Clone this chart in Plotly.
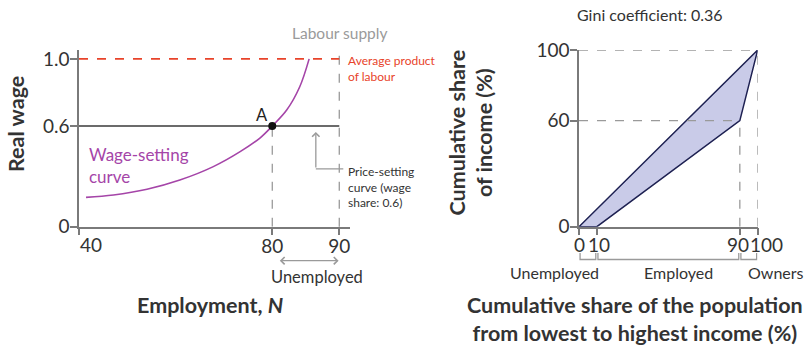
import plotly.graph_objects as go

W, H = 810, 349
FONT = "Lato, 'Noto Sans', sans-serif"
TEXT = "#333333"
GREY = "#9a9a9a"
AXIS = "#7a7a7a"
RED = "#e8432a"
PURPLE = "#a545a8"
NAVY = "#1e2152"
LAV = "#c9cbe8"

# ---- Labour market (left panel) ----
axis_origin_N = 51.15          # broken axis: the origin is labelled 40
n_tick_labels = ["40", "80", "90"]
w_tick_vals = [0, 0.6, 1.0]
w_tick_labels = ["0", "0.6", "1.0"]
wage_N = [52.2, 56.3, 61.3, 66.2, 71.2, 75.2, 78.2, 80.0, 82.15, 84.1, 85.5]
wage_w = [0.175, 0.189, 0.223, 0.278, 0.358, 0.447, 0.53, 0.6, 0.695, 0.834, 1.0]
avg_product = 1.0
price_setting_wage = 0.6
labour_supply = 90
equilibrium_N = 80

# ---- Lorenz curve (right panel) ----
pop_share = [0, 10, 90, 100]
income_share = [0, 0, 60, 100]
equality = [0, 100]
groups = ["Unemployed", "Employed", "Owners"]
group_label_px = [554, 678, 776]
pop_ticks = [0, 10, 90, 100]
pop_tick_labels = ["0", "10", "90", "100"]
pop_label_nudge = [0, 2, -2, 9]       # px, keeps the crowded labels apart
inc_ticks = [0, 60, 100]
gini = 0.36

TICK_SIZE = 19
TITLE_SIZE = 21.5
NOTE_SIZE = 12


def px(x):
    return x / W


def py(y):
    return 1 - y / H


fig = go.Figure()

# Lorenz area between the equality line and the Lorenz curve
fig.add_trace(go.Scatter(
    x=pop_share + equality[::-1], y=income_share + equality[::-1],
    fill="toself", fillcolor=LAV, mode="lines",
    line=dict(color=NAVY, width=1.5), xaxis="x2", yaxis="y2",
    hoverinfo="skip"))

# Wage-setting curve
fig.add_trace(go.Scatter(
    x=wage_N, y=wage_w, mode="lines", line=dict(color=PURPLE, width=1.6, shape="spline"),
    xaxis="x", yaxis="y", hoverinfo="skip"))

# Equilibrium point A
fig.add_trace(go.Scatter(
    x=[equilibrium_N], y=[price_setting_wage], mode="markers",
    marker=dict(color="#111111", size=8), xaxis="x", yaxis="y", hoverinfo="skip"))

shapes = []
dash_grey = dict(color=GREY, width=1.3, dash="dash")
# left panel
shapes.append(dict(type="line", xref="x", yref="y", x0=axis_origin_N, x1=labour_supply,
                   y0=avg_product, y1=avg_product, line=dict(color=RED, width=1.6, dash="dash"),
                   layer="below"))
shapes.append(dict(type="line", xref="x", yref="y", x0=axis_origin_N, x1=labour_supply,
                   y0=price_setting_wage, y1=price_setting_wage,
                   line=dict(color="#3a3a3a", width=1.6), layer="below"))
shapes.append(dict(type="line", xref="x", yref="y domain", x0=labour_supply, x1=labour_supply,
                   y0=0, y1=1, line=dash_grey, layer="below"))
shapes.append(dict(type="line", xref="x", yref="y", x0=equilibrium_N, x1=equilibrium_N,
                   y0=0, y1=price_setting_wage, line=dash_grey, layer="below"))
# connector for the price-setting label
shapes.append(dict(type="line", xref="x", yref="y", x0=86.5, x1=90.6, y0=0.344, y1=0.344,
                   line=dict(color=GREY, width=1.3)))
# right panel guides
shapes.append(dict(type="line", xref="x2", yref="y2", x0=0, x1=pop_share[3],
                   y0=income_share[3], y1=income_share[3], line=dash_grey))
shapes.append(dict(type="line", xref="x2", yref="y2", x0=0, x1=pop_share[2],
                   y0=income_share[2], y1=income_share[2], line=dash_grey))
shapes.append(dict(type="line", xref="x2", yref="y2", x0=pop_share[2], x1=pop_share[2],
                   y0=0, y1=income_share[2], line=dash_grey))
shapes.append(dict(type="line", xref="x2", yref="y2", x0=pop_share[3], x1=pop_share[3],
                   y0=0, y1=income_share[3], line=dash_grey))
# group brackets under the population axis
yb0, yb1 = py(259.5), py(253)
for a, b in zip(pop_ticks[:-1], pop_ticks[1:]):
    a2, b2 = a + 0.6, b - 0.6
    shapes.append(dict(type="path", xref="x2", yref="paper",
                       path=f"M{a2},{yb1} L{a2},{yb0} L{b2},{yb0} L{b2},{yb1}",
                       line=dict(color=GREY, width=1.3)))

ann = []


def text(x, y, s, size=15, color=TEXT, xref="paper", yref="paper", **kw):
    d = dict(x=x, y=y, text=s, showarrow=False, xref=xref, yref=yref,
             xanchor="center", yanchor="middle",
             font=dict(family=FONT, size=size, color=color))
    d.update(kw)
    ann.append(d)


# left panel text
text(labour_supply, py(33), "Labour supply", size=15.5, color=GREY, xref="x")
text(labour_supply, avg_product, "Average product<br>of labour", size=NOTE_SIZE, color=RED,
     xref="x", yref="y", xanchor="left", yanchor="top", xshift=7, yshift=8, align="left")
text(labour_supply, py(162), "Price-setting<br>curve (wage<br>share: 0.6)", size=NOTE_SIZE,
     xref="x", xanchor="left", yanchor="top", xshift=7, align="left")
text(px(87), py(166), "Wage-setting<br>curve", size=17, color=PURPLE, xanchor="left",
     align="left")
text(equilibrium_N, price_setting_wage, "A", size=16.5, color="#222222", xref="x", yref="y",
     xshift=-10, yshift=11)
text(axis_origin_N, py(244), n_tick_labels[0], size=TICK_SIZE, xref="x", xanchor="left",
     xshift=-1)
text(px(317), py(277), "Unemployed", size=16.5)
text(px(210), py(305), "<b>Employment, <i>N</i></b>", size=TITLE_SIZE)
text(px(16), py(124), "<b>Real wage</b>", size=TITLE_SIZE, textangle=-90)

# price-setting arrow
ann.append(dict(x=86.5, y=0.565, ax=86.5, ay=0.344, xref="x", yref="y", axref="x", ayref="y",
                showarrow=True, arrowhead=4, arrowsize=1.1, arrowwidth=1.3, arrowcolor=GREY,
                text=""))
# unemployed double arrow
ann.append(dict(x=labour_supply - 0.1, y=py(260.7), ax=equilibrium_N + 0.9, ay=0,
                xref="x", yref="paper", axref="x", ayref="pixel",
                showarrow=True, arrowhead=4, startarrowhead=4, arrowside="end+start",
                arrowsize=1.1, arrowwidth=1.3, arrowcolor=GREY, text=""))

# right panel text
text(px(650), py(14), f"Gini coefficient: {gini}", size=16)
for v, lab, nudge in zip(pop_ticks, pop_tick_labels, pop_label_nudge):
    text(v, py(244), lab, size=TICK_SIZE, xref="x2", xshift=nudge)
for g, gx in zip(groups, group_label_px):
    text(px(gx), py(272), g, size=16)
text(px(470), py(132.5), "<b>Cumulative share<br>of income (%)</b>", size=TITLE_SIZE,
     textangle=-90)
text(px(635), py(319), "<b>Cumulative share of the population<br>from lowest to highest income (%)</b>",
     size=TITLE_SIZE)

axis_common = dict(showline=True, linecolor=AXIS, linewidth=1.5, ticks="outside", ticklen=7,
                   tickcolor=AXIS, tickwidth=1.5, showgrid=False, zeroline=False,
                   automargin=False, tickangle=0,
                   tickfont=dict(family=FONT, size=TICK_SIZE, color=TEXT), fixedrange=True)
x_common = dict(axis_common, ticklabelstandoff=-5)
y_common = dict(axis_common, ticklabelstandoff=-3)

y_dom = [py(226.7), py(50)]
fig.update_layout(
    width=W, height=H, margin=dict(l=0, r=0, t=0, b=0, autoexpand=False),
    paper_bgcolor="white", plot_bgcolor="white", showlegend=False,
    font=dict(family=FONT, color=TEXT),
    xaxis=dict(x_common, domain=[px(79), px(350)], range=[axis_origin_N, 91.6],
               tickvals=[axis_origin_N, equilibrium_N, labour_supply],
               ticktext=["", n_tick_labels[1], n_tick_labels[2]], anchor="y"),
    yaxis=dict(y_common, domain=y_dom, range=[0, 1.053], tickvals=w_tick_vals,
               ticktext=w_tick_labels, anchor="x"),
    xaxis2=dict(x_common, domain=[px(579), px(757.7)], range=[0, 100],
                tickvals=pop_ticks, showticklabels=False, anchor="y2"),
    yaxis2=dict(y_common, domain=y_dom, range=[0, 100], tickvals=inc_ticks, anchor="x2"),
    shapes=shapes, annotations=ann,
)

fig.write_html("out.html")
